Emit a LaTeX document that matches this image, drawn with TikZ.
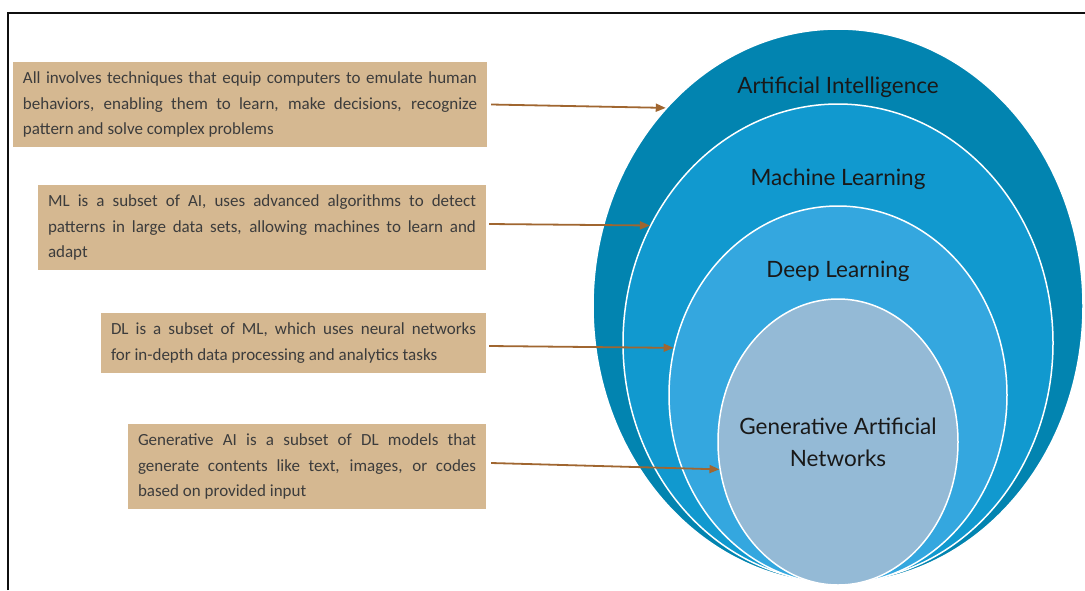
\documentclass[tikz,border=0pt]{standalone}
\usepackage{fontspec}
\setmainfont{Carlito}
\newfontfamily\lblfont{Lato}
\usetikzlibrary{shapes.geometric,arrows.meta}
\definecolor{aiblue}{RGB}{2,132,176}
\definecolor{mlblue}{RGB}{17,153,207}
\definecolor{dlblue}{RGB}{52,167,223}
\definecolor{genblue}{RGB}{148,186,214}
\definecolor{boxtan}{RGB}{213,184,145}
\definecolor{arrbrown}{RGB}{160,102,48}
\definecolor{boxtext}{RGB}{60,60,60}
\definecolor{framecol}{RGB}{15,15,15}
\begin{document}
\begin{tikzpicture}[x=1pt,y=-1pt,
  ring/.style={ellipse, inner sep=0pt, draw=white, line width=1.5pt},
  desc/.style={fill=boxtan, text=boxtext, inner xsep=10pt, inner ysep=0pt, align=justify, font=\fontsize{17}{25.5}\selectfont},
  lbl/.style={font=\lblfont\fontsize{22.5}{32}\selectfont, text=black!90, anchor=base, inner sep=0pt},
  arr/.style={draw=arrbrown, line width=1.8pt, -{Triangle[length=10pt,width=8pt]}}]
\useasboundingbox (0,0) rectangle (1085,590);
% frame
\draw[framecol, line width=2pt] (8,590) -- (8,12.5) -- (1085,12.5);
% nested ellipses
\node[ring, fill=aiblue, minimum width=490pt, minimum height=554pt] (ai) at (838,306) {};
\node[ring, fill=mlblue, minimum width=430pt, minimum height=478pt] (ml) at (838,343) {};
\node[ring, fill=dlblue, minimum width=338pt, minimum height=378pt] (dl) at (838,395) {};
\node[ring, fill=genblue, minimum width=240pt, minimum height=286pt] (gan) at (838,442) {};
\node[lbl] (ailbl) at (838,93) {Artificial Intelligence};
\node[lbl] (mllbl) at (838,185) {Machine Learning};
\node[lbl] (dllbl) at (838,277) {Deep Learning};
\node[lbl, anchor=center, align=center] (ganlbl) at (838,442) {Generative Artificial\\Networks};
% description boxes
\node[desc, text width=454pt, minimum height=85pt] (b1) at (250,104.5) {All involves techniques that equip computers to emulate human\linebreak behaviors, enabling them to learn, make decisions, recognize\linebreak pattern and solve complex problems};
\node[desc, text width=428pt, minimum height=85pt] (b2) at (262,227.5) {ML is a subset of AI, uses advanced algorithms to detect\linebreak patterns in large data sets, allowing machines to learn and\linebreak adapt};
\node[desc, text width=365pt, minimum height=60pt] (b3) at (293.5,343) {DL is a subset of ML, which uses neural networks\linebreak for in-depth data processing and analytics tasks};
\node[desc, text width=338pt, minimum height=85pt] (b4) at (307,466.5) {Generative AI is a subset of DL models that\linebreak generate contents like text, images, or codes\linebreak based on provided input};
% arrows
\draw[arr] ([xshift=4pt]b1.east) -- (ai.131.5);
\draw[arr] ([xshift=3pt,yshift=3.5pt]b2.east) -- (ml.148.8);
\draw[arr] ([xshift=3pt,yshift=-3pt]b3.east) -- (dl.164.7);
\draw[arr] ([xshift=5pt,yshift=3.5pt]b4.east) -- (gan.193.1);
\end{tikzpicture}
\end{document}
